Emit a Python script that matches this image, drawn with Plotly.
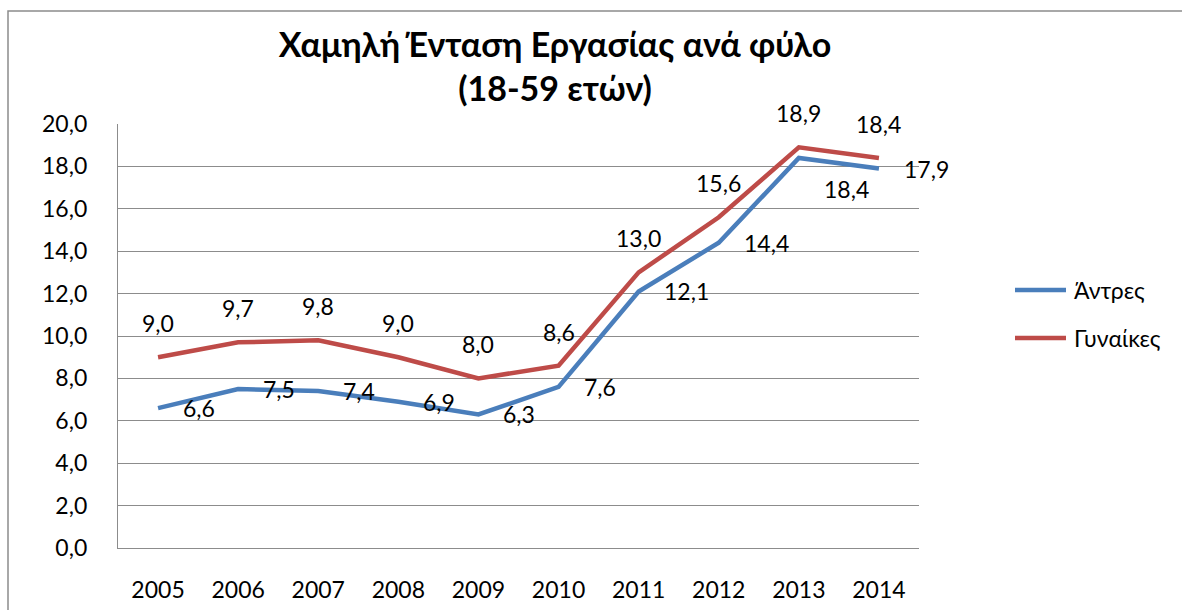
import plotly.graph_objects as go

years = [2005, 2006, 2007, 2008, 2009, 2010, 2011, 2012, 2013, 2014]
men = [6.6, 7.5, 7.4, 6.9, 6.3, 7.6, 12.1, 14.4, 18.4, 17.9]
women = [9.0, 9.7, 9.8, 9.0, 8.0, 8.6, 13.0, 15.6, 18.9, 18.4]
y_ticks = [0, 2, 4, 6, 8, 10, 12, 14, 16, 18, 20]

title_text = "Χαμηλή Ένταση Εργασίας ανά φύλο<br>(18-59 ετών)"
name_men = "Άντρες"
name_women = "Γυναίκες"

BLUE = "#4A7EBB"
RED = "#BE4B48"
GRID = "#8C8C8C"
FONT = "Lato, 'Noto Sans', sans-serif"
FS = 23

# plot area in pixels (for paper-coordinate helpers)
L, R, T, B = 118, 919, 124, 548
W, H = 1182, 610

def px_x(p):
    return (p - L) / (R - L)

def px_y(p):
    return (B - p) / (B - T)

def fmt(v):
    return f"{v:.1f}".replace(".", ",")

fig = go.Figure()
fig.add_trace(go.Scatter(x=years, y=men, mode="lines", name=name_men,
                         line=dict(color=BLUE, width=4.5)))
fig.add_trace(go.Scatter(x=years, y=women, mode="lines", name=name_women,
                         line=dict(color=RED, width=4.5)))

annotations = []
for x, v in zip(years, women):
    annotations.append(dict(x=x, y=v, xref="x", yref="y", text=fmt(v), showarrow=False,
                            xanchor="center", yanchor="middle", yshift=34,
                            font=dict(family=FONT, size=FS, color="#000")))
below_right = {2013}
for x, v in zip(years, men):
    ys = -31 if x in below_right else 0
    annotations.append(dict(x=x, y=v, xref="x", yref="y", text=fmt(v), showarrow=False,
                            xanchor="left", yanchor="middle", xshift=23, yshift=ys,
                            font=dict(family=FONT, size=FS, color="#000")))

# frame and manual legend
shapes = [dict(type="rect", xref="paper", yref="paper",
               x0=px_x(8), x1=px_x(1300), y0=px_y(700), y1=px_y(11),
               line=dict(color="#8C8C8C", width=1.5), layer="below")]
legend_items = [(name_men, BLUE, 290), (name_women, RED, 338)]
for name, col, ypx in legend_items:
    shapes.append(dict(type="line", xref="paper", yref="paper",
                       x0=px_x(1015), x1=px_x(1066), y0=px_y(ypx), y1=px_y(ypx),
                       line=dict(color=col, width=4.5)))
    annotations.append(dict(x=px_x(1072), y=px_y(ypx), xref="paper", yref="paper",
                            text=name, showarrow=False, xanchor="left", yanchor="middle",
                            font=dict(family=FONT, size=FS, color="#000")))

fig.update_layout(
    width=W, height=H,
    margin=dict(l=L, r=W - R, t=T, b=H - B),
    paper_bgcolor="white", plot_bgcolor="white",
    separators=",.",
    font=dict(family=FONT, size=FS, color="#000"),
    title=dict(text=title_text, x=555 / W, xanchor="center", xref="container",
               y=1 - 57 / H, yanchor="middle", yref="container",
               font=dict(family=FONT, size=34, color="#000", weight="bold")),
    showlegend=False,
    annotations=annotations,
    shapes=shapes,
)
fig.update_xaxes(range=[2004.5, 2014.5], tickvals=years, showgrid=False, showline=True,
                 linecolor=GRID, linewidth=1.3, zeroline=False, automargin=False,
                 ticks="", tickfont=dict(family=FONT, size=FS, color="#000"),
                 ticklabelstandoff=21, fixedrange=True)
fig.update_yaxes(range=[0, 20], tickvals=y_ticks, tickformat=".1f", showgrid=True, gridcolor=GRID,
                 gridwidth=1.3, showline=True, linecolor=GRID, linewidth=1.3, zeroline=False,
                 automargin=False, ticks="", tickfont=dict(family=FONT, size=FS, color="#000"),
                 ticklabelstandoff=25, fixedrange=True)

fig.write_html("out.html", config={"displayModeBar": False},
               post_script="document.body.style.margin='0px';document.body.style.overflow='hidden';")
